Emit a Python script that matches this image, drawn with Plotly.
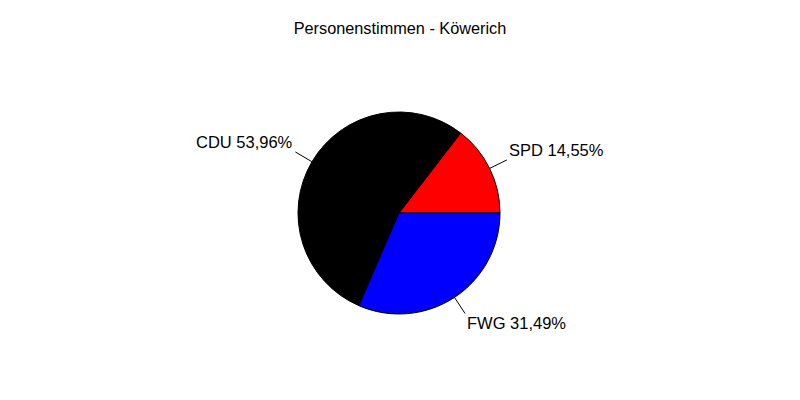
import math
import plotly.graph_objects as go

parties = ["SPD", "CDU", "FWG"]
shares = [14.55, 53.96, 31.49]
colors = ["#FF0000", "#000000", "#0000FF"]
title_text = "Personenstimmen - Köwerich"

W, H = 800, 400
cx, cy, r = 399, 213, 101

total = sum(shares)
# first slice starts at 3 o'clock and runs counterclockwise
rotation = 90 - shares[0] / total * 360

fig = go.Figure(go.Pie(
    labels=parties, values=shares, sort=False,
    direction="counterclockwise", rotation=rotation,
    marker=dict(colors=colors, line=dict(color="#000000", width=1)),
    textinfo="none", hoverinfo="skip", showlegend=False,
    domain=dict(x=[(cx - r) / W, (cx + r) / W], y=[1 - (cy + r) / H, 1 - (cy - r) / H]),
))

cum = 0.0
shapes, annotations = [], []
for name, v in zip(parties, shares):
    mid = (cum + v / 2) / total * 2 * math.pi
    cum += v
    c, s = math.cos(mid), math.sin(mid)
    x0, y0 = cx + r * c, cy - r * s
    x1, y1 = cx + 1.19 * r * c, cy - 1.19 * r * s
    shapes.append(dict(type="line", xref="paper", yref="paper",
                       x0=x0 / W, y0=1 - y0 / H, x1=x1 / W, y1=1 - y1 / H,
                       line=dict(color="#000000", width=1)))
    label = f"{name} {v:.2f}%".replace(".", ",")
    annotations.append(dict(
        x=(x1 + (0 if c >= 0 else 0)) / W, y=1 - y1 / H, xref="paper", yref="paper",
        text=label, showarrow=False,
        xanchor="left" if c >= 0 else "right", yanchor="middle",
        yshift=10 if s > 0 else -10,
        font=dict(family="Liberation Sans, Arial", size=16.5, color="#000000"),
    ))

fig.update_layout(
    width=W, height=H,
    margin=dict(l=0, r=0, t=0, b=0),
    paper_bgcolor="#FFFFFF", plot_bgcolor="#FFFFFF",
    title=dict(text=title_text, x=0.5, xanchor="center", y=1 - 28 / H, yanchor="middle",
               yref="container",
               font=dict(family="Liberation Sans, Arial", size=16.3, color="#000000")),
    shapes=shapes, annotations=annotations,
)

fig.write_html("out.html", config={"displayModeBar": False},
               post_script="document.body.style.margin='0';")
